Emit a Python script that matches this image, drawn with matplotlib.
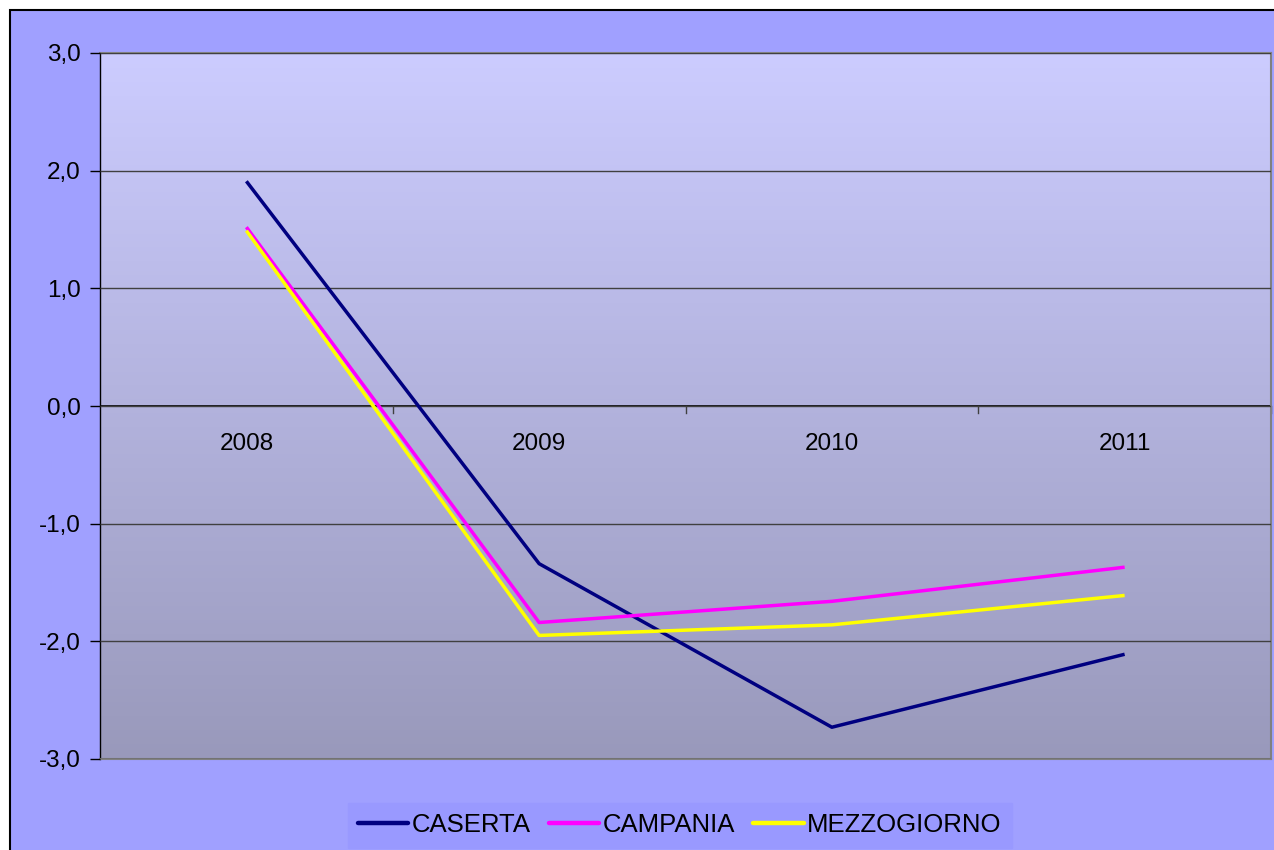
import matplotlib
matplotlib.use("Agg")
import matplotlib.pyplot as plt
import numpy as np
from matplotlib.patches import Rectangle
from matplotlib.lines import Line2D

years = ["2008", "2009", "2010", "2011"]
caserta = [1.91, -1.34, -2.73, -2.11]
campania = [1.52, -1.84, -1.66, -1.37]
mezzogiorno = [1.49, -1.95, -1.86, -1.61]
series_names = ["CASERTA", "CAMPANIA", "MEZZOGIORNO"]
series_colors = ["#000080", "#FF00FF", "#FFFF00"]
yticks = [-3, -2, -1, 0, 1, 2, 3]

plt.rcParams['font.family'] = ['Liberation Sans', 'DejaVu Sans']

W, H = 1274, 850
fig = plt.figure(figsize=(W/100, H/100), dpi=100)
fig.patch.set_facecolor("white")

# outer chart box
bg = fig.add_axes([0, 0, 1, 1], zorder=-10)
bg.set_xlim(0, W)
bg.set_ylim(H, 0)
bg.axis("off")
bg.add_patch(Rectangle((10, 10), W + 50, H + 50, facecolor="#A0A0FF",
                       edgecolor="black", linewidth=1.5))

ax = fig.add_axes([100/W, 1 - 759/H, (1271-100)/W, (759-53)/H], zorder=1)
ax.set_xlim(-0.5, 3.5)
ax.set_ylim(-3, 3)

# gradient background
grad = np.linspace(0, 1, 256).reshape(-1, 1)
top = np.array([0xCC, 0xCC, 0xFF]) / 255
bot = np.array([0x99, 0x99, 0xBB]) / 255
img = top[None, None, :] * (1 - grad[:, :, None]) + bot[None, None, :] * grad[:, :, None]
ax.imshow(img, extent=[-0.5, 3.5, -3, 3], aspect="auto", zorder=0, origin="upper")

ax.set_yticks(yticks)
ax.set_yticklabels([f"{v:.1f}".replace(".", ",") for v in yticks], fontsize=17.5)
ax.tick_params(axis="y", length=7, width=1, color="black", pad=7)
ax.grid(axis="y", color="#404040", linewidth=1, zorder=1)
ax.set_axisbelow(False)

ax.set_xticks([])
for s in ["top", "right", "bottom"]:
    ax.spines[s].set_color("#808080")
    ax.spines[s].set_linewidth(1.5)
ax.spines["left"].set_color("black")
ax.spines["left"].set_linewidth(1)

# category axis at zero
x = np.arange(len(years))
ax.axhline(0, color="black", linewidth=1.2, zorder=2)
for b in np.arange(0.5, 3.6, 1.0):
    ax.plot([b, b], [0, -0.06], color="#404040", linewidth=1, zorder=2, clip_on=False)
for i, yr in enumerate(years):
    ax.annotate(yr, (i, 0), xytext=(0, -27), textcoords="offset points",
                ha="center", va="center", fontsize=17.5, zorder=3)

for vals, name, col in zip([caserta, campania, mezzogiorno], series_names, series_colors):
    ax.plot(x, vals, color=col, linewidth=2.5, label=name, zorder=4, solid_capstyle="butt")

handles = [Line2D([0], [0], color=c, linewidth=3.2, solid_capstyle="round") for c in series_colors]
leg = fig.legend(handles, series_names, loc="upper center", ncol=3,
                 bbox_to_anchor=(680/W, 1 - 803/H), fontsize=18.5, frameon=True,
                 fancybox=False, handlelength=1.95, handletextpad=0.15, columnspacing=0.7,
                 borderpad=0.4, borderaxespad=0)
leg.get_frame().set_facecolor("#9999FF")
leg.get_frame().set_edgecolor("#9999FF")
leg.get_frame().set_alpha(1)

fig.savefig("out.png", dpi=100)
